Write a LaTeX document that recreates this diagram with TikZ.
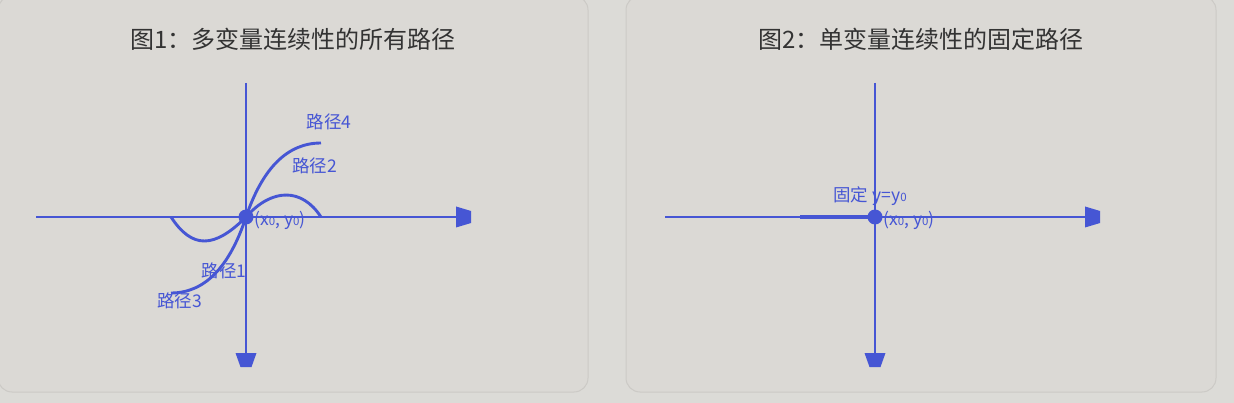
\documentclass[tikz,border=0pt]{standalone}
\usepackage{fontspec}
\setmainfont{Noto Sans CJK SC}
\definecolor{bgc}{RGB}{220,219,215}
\definecolor{panelc}{RGB}{219,217,213}
\definecolor{edgec}{RGB}{204,202,198}
\definecolor{axc}{RGB}{70,86,212}
\definecolor{ttlc}{RGB}{51,51,51}
\newcommand\subzero{{\fontsize{11.5}{11.5}\selectfont 0}}
\begin{document}
\begin{tikzpicture}[x=1pt,y=-1pt,
  axisline/.style={draw=axc,line width=2.9pt},
  curveline/.style={draw=axc,line width=2.9pt},
  lbl/.style={text=axc,font=\fontsize{17.5}{17.5}\selectfont,inner sep=0pt},
  coordlbl/.style={text=axc,font=\fontsize{17.5}{17.5}\selectfont,inner sep=0pt},
  ttl/.style={text=ttlc,font=\fontsize{24}{24}\selectfont,inner sep=0pt},
  panelbox/.style={fill=panelc,draw=edgec,line width=1pt,rounded corners=14pt},
  tipfill/.style={fill=axc}]
\useasboundingbox (0,0) rectangle (1234,403);
\fill[bgc] (0,0) rectangle (1234,403);
\draw[panelbox] (-2,-4) rectangle (588,392);
\draw[panelbox] (626,-4) rectangle (1216,392);

% titles
\node[ttl] (t1) at (293,39) {图1：多变量连续性的所有路径};
\node[ttl] (t2) at (921,39) {图2：单变量连续性的固定路径};

% ---------- panel 1 ----------
\coordinate (o1) at (246,217);
\coordinate (h1l) at (36,217);
\coordinate (h1r) at (458,217);
\coordinate (v1t) at (246,83);
\coordinate (v1b) at (246,355);
\draw[axisline] (h1l) -- (h1r);
\draw[axisline] (v1t) -- (v1b);
\fill[tipfill] (456,206.5) -- (471,211) -- (471,223) -- (456,227.5) -- cycle;
\fill[tipfill] (235.5,353) -- (256.5,353) -- (251.5,367) -- (240.5,367) -- cycle;

\coordinate (s1) at (171,293);
\coordinate (s2) at (321,143);
\draw[curveline] (s1) .. controls (204.3,293) and (229.3,267.7) .. (o1)
                      .. controls (262.7,167.7) and (287.7,143) .. (s2);
\coordinate (w1) at (171,217);
\coordinate (w2) at (321,217);
\draw[curveline] (w1) .. controls (192,249) and (214,249) .. (o1)
                      .. controls (272,187.7) and (302,187.7) .. (w2);
\fill[axc] (o1) circle (7.5pt);

\node[lbl] (p4) at (329,121.5) {路径4};
\node[lbl] (p2) at (314.5,166) {路径2};
\node[lbl] (p1) at (224,271) {路径1};
\node[lbl] (p3) at (179.5,301) {路径3};
\node[coordlbl,anchor=west] (c1) at (254,220.5) {(x\subzero, y\subzero)};

% ---------- panel 2 ----------
\coordinate (o2) at (875,217);
\coordinate (h2l) at (665,217);
\coordinate (h2r) at (1087,217);
\coordinate (v2t) at (875,83);
\coordinate (v2b) at (875,355);
\coordinate (f2) at (800,217);
\draw[axisline] (h2l) -- (h2r);
\draw[draw=axc,line width=3.4pt] (f2) -- (o2);
\draw[axisline] (v2t) -- (v2b);
\fill[tipfill] (1085,206.5) -- (1100,211) -- (1100,223) -- (1085,227.5) -- cycle;
\fill[tipfill] (864.5,353) -- (885.5,353) -- (880.5,367) -- (869.5,367) -- cycle;
\fill[axc] (o2) circle (7.5pt);

\node[lbl] (fx) at (870,196.5) {固定 y=y\subzero};
\node[coordlbl,anchor=west] (c2) at (883,220.5) {(x\subzero, y\subzero)};
\end{tikzpicture}
\end{document}
